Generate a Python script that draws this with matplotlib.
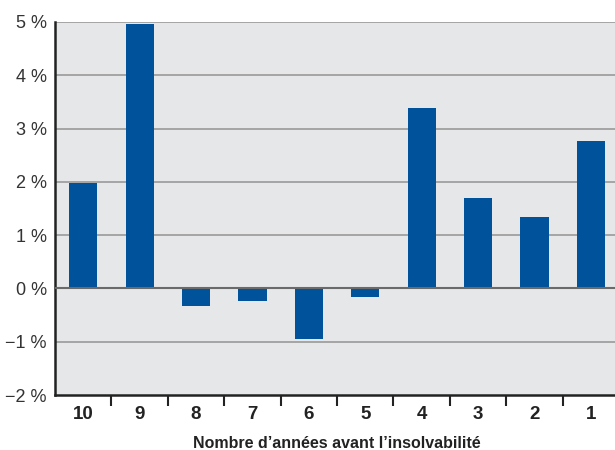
import numpy as np
import matplotlib
matplotlib.use("Agg")
import matplotlib.pyplot as plt

# years before insolvency and the value for each
years = ["10", "9", "8", "7", "6", "5", "4", "3", "2", "1"]
values = [1.98, 4.97, -0.33, -0.24, -0.95, -0.17, 3.39, 1.70, 1.34, 2.77]
yticks = [-2, -1, 0, 1, 2, 3, 4, 5]
ylabels = ["\u22122 %", "\u22121 %", "0 %", "1 %", "2 %", "3 %", "4 %", "5 %"]

plt.rcParams['font.family'] = ['Liberation Sans', 'DejaVu Sans']

fig = plt.figure(figsize=(6.15, 4.5), dpi=100)
ax = fig.add_axes([55 / 615, 55 / 450, 564 / 615, 373 / 450])
ax.set_facecolor("#e6e7e8")

x = np.arange(len(years))
ax.set_xlim(-0.5, len(years) - 0.5)
ax.set_ylim(-2, 5)

# horizontal grid
for t in yticks[1:]:
    ax.axhline(t, color="#9a9a9a", lw=1.2, zorder=1)
ax.axhline(0, color="#6a6a6a", lw=1.5, zorder=3)

ax.bar(x, values, width=0.5, color="#00529b", zorder=2)

ax.set_yticks(yticks)
ax.set_yticklabels(ylabels, fontsize=13, color="#333333")
ax.tick_params(axis="y", length=0, pad=6)

# x labels centred, ticks on category boundaries
ax.set_xticks(x)
ax.set_xticklabels(years, fontsize=13.5, fontweight="bold", color="#222222")
ax.tick_params(axis="x", which="major", length=0, pad=8)
ax.set_xticks(np.arange(0.5, len(years) - 0.5, 1), minor=True)
ax.tick_params(axis="x", which="minor", length=8, width=1.5, color="#222222", direction="out")

for s in ["top", "right"]:
    ax.spines[s].set_visible(False)
ax.spines["left"].set_linewidth(1.8)
ax.spines["bottom"].set_linewidth(1.8)
ax.spines["left"].set_color("#222222")
ax.spines["bottom"].set_color("#222222")

ax.set_xlabel("Nombre d\u2019ann\u00e9es avant l\u2019insolvabilit\u00e9",
              fontsize=11.5, fontweight="bold", color="#222222", labelpad=9)

fig.savefig("out.png", dpi=100)
